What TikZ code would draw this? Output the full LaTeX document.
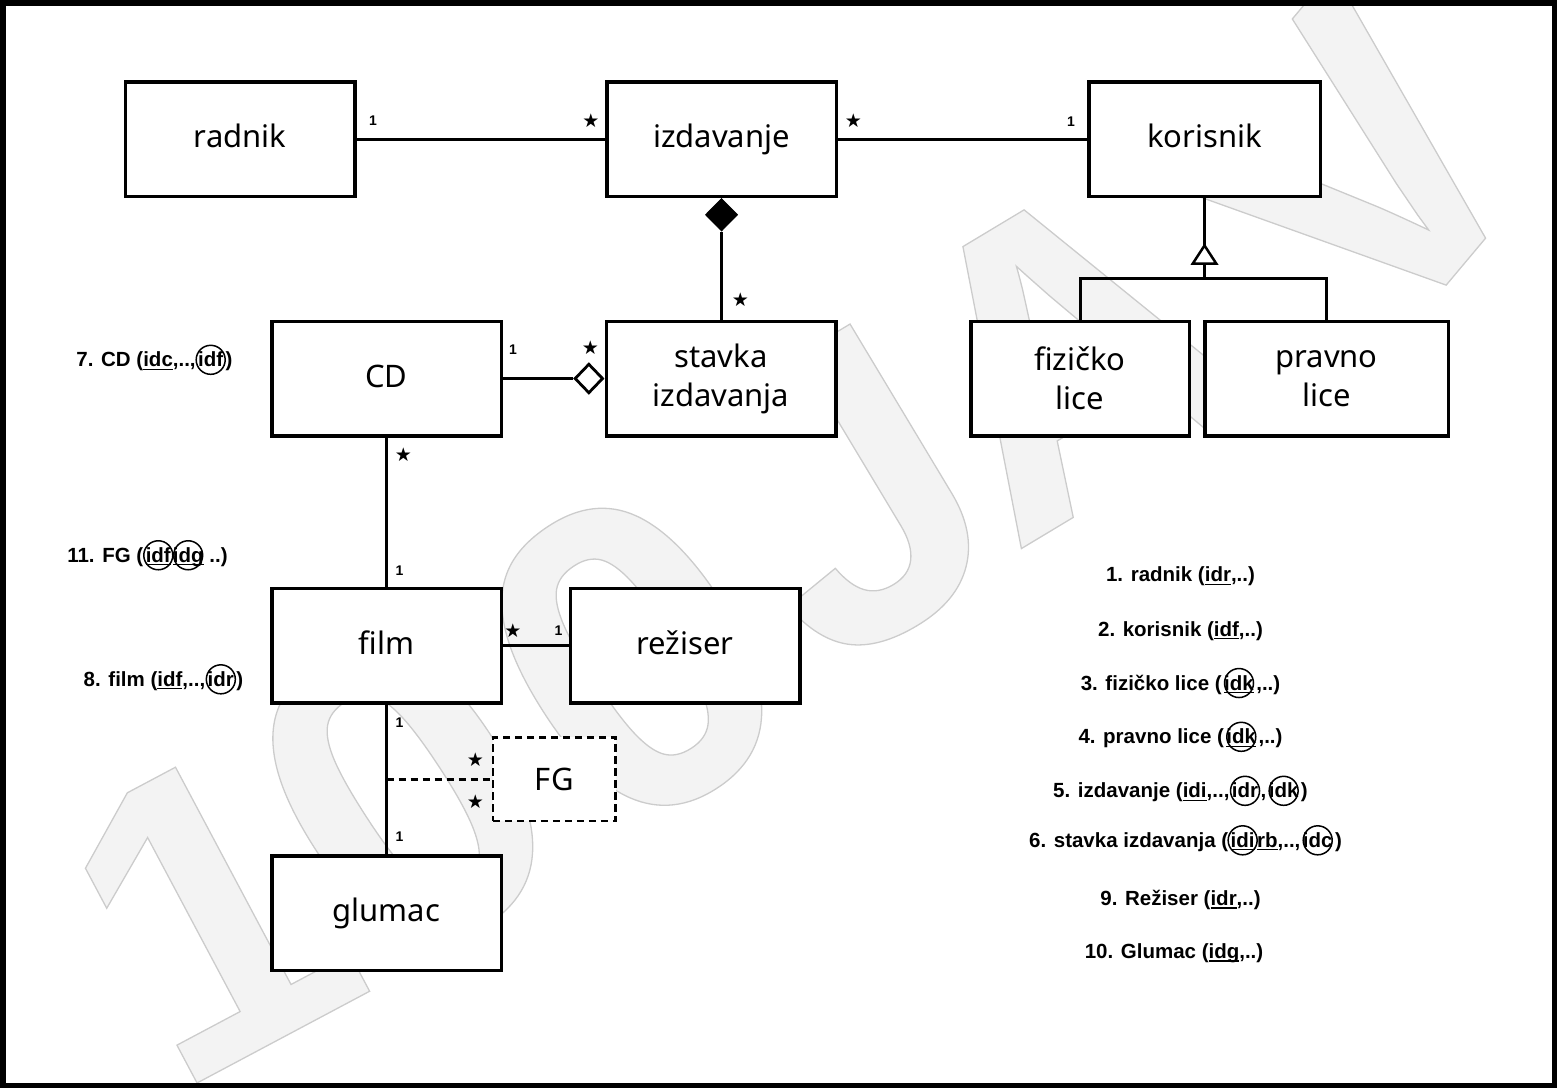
\documentclass[tikz,border=0pt]{standalone}
\usepackage{fontspec}
\setmainfont{Noto Sans}
\newfontfamily\symfont{DejaVu Sans}
\newfontfamily\lblfont{Liberation Sans}
\usetikzlibrary{calc,shapes.geometric}
\definecolor{wmfill}{HTML}{F3F3F3}
\newsavebox\ulxbox
\newsavebox\cirxbox
\newcommand\ulx[1]{\sbox\ulxbox{#1}\rlap{\rule[-3pt]{\wd\ulxbox}{1.3pt}}\usebox\ulxbox}
\newcommand\cirx[1]{\kern2.5pt\sbox\cirxbox{#1}\rlap{\kern0.5\wd\cirxbox\tikz[overlay,baseline=0pt]\draw[line width=1.5pt,black,solid] (0pt,7pt) circle[radius=14.5pt];}\usebox\cirxbox\kern2.5pt}
\newcommand\wmchar[1]{\special{pdf:literal direct 2 Tr 1.3 w 0.8 0.8 0.8 RG}#1\special{pdf:literal direct 0 Tr}}
\tikzset{
  box/.style={draw, line width=3.5pt, fill=white, minimum width=229.5pt, minimum height=114.5pt, inner sep=0pt, align=center, font=\fontsize{31}{39}\selectfont},
  box1/.style={box, text height=24pt, text depth=6.6pt},
  conn/.style={line width=3pt},
  mult/.style={font=\lblfont\bfseries\fontsize{14}{14}\selectfont, inner sep=0pt},
  star/.style={font=\symfont\fontsize{19}{19}\selectfont, inner sep=0pt},
  lbl/.style={font=\lblfont\bfseries\fontsize{20.5}{22}\selectfont, inner sep=0pt},
  wm/.style={font=\lblfont\bfseries\fontsize{420}{420}\selectfont, text=wmfill, inner sep=0pt},
  fgdash/.style={line width=2.7pt, dash pattern=on 7.5pt off 4.5pt},
}
\begin{document}
\begin{tikzpicture}[x=1pt,y=-1pt]
\useasboundingbox (0,0) rectangle (1557,1088);
% watermark
\begin{scope}
\clip (0,0) rectangle (1557,1088);
\node[wm, rotate=28] (w1) at (209,913) {\wmchar{1}};
\node[wm, rotate=33, font=\lblfont\bfseries\fontsize{440}{440}\selectfont] (w2) at (404,793) {\wmchar{0}};
\node[wm, rotate=33, font=\lblfont\bfseries\fontsize{440}{440}\selectfont] (w3) at (633,657) {\wmchar{0}};
\node[wm, rotate=31] (w4) at (850,495) {\wmchar{J}};
\node[wm, rotate=31] (w5) at (1068,352) {\wmchar{A}};
\node[wm, rotate=50] (w6) at (1355,169) {\wmchar{V}};
\end{scope}
% frame
\draw[line width=5.5pt] (2.75,2.75) rectangle (1554.25,1085.25);
% boxes
\node[box1] (radnik) at (240,139) {radnik};
\node[box1] (izdavanje) at (721.5,139) {izdavanje};
\node[box1, minimum width=231.5pt] (korisnik) at (1204.5,139) {korisnik};
\node[box1] (CD) at (386.5,378.5) {CD};
\node[box] (stavka) at (721,378.5) {stavka\\izdavanja};
\node[box, minimum width=218.5pt] (fizicko) at (1080,378.5) {fizičko\\lice};
\node[box, minimum width=243.5pt] (pravno) at (1326.5,378.5) {pravno\\lice};
\node[box1] (film) at (386.5,645.5) {film};
\node[box1] (rezisar) at (685,645.5) {režiser};
\node[box1] (glumac) at (386.5,913) {glumac};
\node[draw, fgdash, fill=white, minimum width=122.7pt, minimum height=83.7pt, inner sep=0pt, text height=22pt, text depth=0pt, font=\fontsize{31}{39}\selectfont] (fg) at (554.3,779.2) {FG};
% connectors
\draw[conn] (radnik.east) -- (izdavanje.west);
\draw[conn] (izdavanje.east) -- (korisnik.west);
\node[diamond, draw, fill=black, line width=1pt, minimum width=32pt, minimum height=32.5pt, inner sep=0pt, anchor=north] (dfill) at (izdavanje.south) {};
\draw[conn] (dfill.south) -- (dfill.south |- stavka.north);
\node[diamond, draw, fill=white, line width=2.8pt, minimum width=28.5pt, minimum height=29.6pt, inner sep=0pt, anchor=east] (dopen) at (stavka.west) {};
\draw[conn] (CD.east) -- (dopen.west);
\coordinate (gtip) at ($(korisnik.south)+(0,47.5)$);
\coordinate (gbase) at ($(gtip)+(0,18)$);
\coordinate (gbar) at ($(gtip)+(0,32.7)$);
\draw[conn] (korisnik.south) -- (gtip);
\draw[line width=2.5pt, fill=white, line join=miter] (gtip) -- ++(-11.7,18) -- ++(23.4,0) -- cycle;
\draw[conn] (gbase) -- (gbar);
\draw[conn] (fizicko.north) |- (gbar) -| (pravno.north);
\draw[conn] (CD.south) -- (film.north);
\draw[conn] (film.east) -- (rezisar.west);
\draw[conn] (film.south) -- (glumac.north);
\coordinate (fgj) at (film.south |- fg.west);
\draw[fgdash] (fgj) -- (fg.west);
% multiplicities
\node[mult] (m1) at (373,121) {1};
\node[star] (s1) at (591,121) {★};
\node[star] (s2) at (853.5,121) {★};
\node[mult] (m2) at (1071,121.5) {1};
\node[star] (s3) at (740.5,299.5) {★};
\node[mult] (m3) at (513,350) {1};
\node[star] (s4) at (590.5,347.5) {★};
\node[star] (s5) at (403.5,455) {★};
\node[mult] (m4) at (399.5,570.5) {1};
\node[star] (s6) at (513,631) {★};
\node[mult] (m5) at (558.5,631) {1};
\node[mult] (m6) at (399.5,723) {1};
\node[star] (s7) at (475.3,759.5) {★};
\node[star] (s8) at (475.3,801.3) {★};
\node[mult] (m7) at (399.5,837) {1};
% relation schema labels
\node[lbl] (l7) at (154.5,361.5) {7. CD (\ulx{idc},..,\cirx{idf})};
\node[lbl] (l11) at (147.5,557) {11. FG (\cirx{\ulx{idf}}\kern-3pt\cirx{\ulx{idg}}\,..)};
\node[lbl] (l8) at (163.5,681) {8. film (\ulx{idf},..,\cirx{idr})};
\node[lbl] (r1) at (1180.5,576.5) {1. radnik (\ulx{idr},..)};
\node[lbl] (r2) at (1180.5,631) {2. korisnik (\ulx{idf},..)};
\node[lbl] (r3) at (1180.5,684.5) {3. fizičko lice (\cirx{\ulx{idk}},..)};
\node[lbl] (r4) at (1180.5,738.5) {4. pravno lice (\cirx{\ulx{idk}},..)};
\node[lbl] (r5) at (1180.5,792.5) {5. izdavanje (\ulx{idi},..,\cirx{idr},\cirx{idk})};
\node[lbl] (r6) at (1185.5,842) {6. stavka izdavanja (\cirx{\ulx{idi}} \ulx{rb},..,\cirx{idc})};
\node[lbl] (r9) at (1180.5,900) {9. Režiser (\ulx{idr},..)};
\node[lbl] (r10) at (1174,953.5) {10. Glumac (\ulx{idg},..)};
\end{tikzpicture}
\end{document}
